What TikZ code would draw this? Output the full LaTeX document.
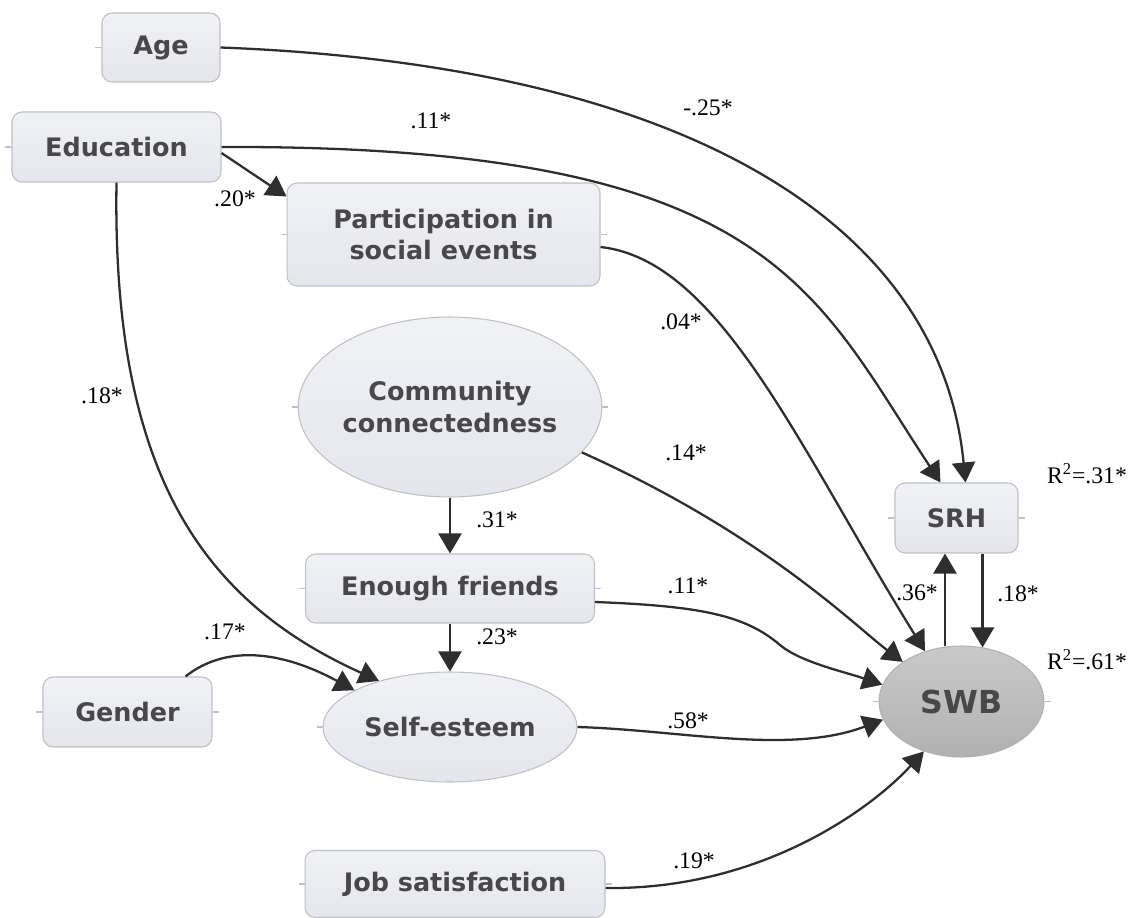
\documentclass[tikz,border=0pt]{standalone}
\usepackage{fontspec}
\setmainfont{Liberation Serif}
\newfontfamily\boxfont{DejaVu Sans}
\usetikzlibrary{shapes.geometric,arrows.meta,calc}
\definecolor{boxtop}{HTML}{F1F2F6}
\definecolor{boxbot}{HTML}{E5E6EC}
\definecolor{boxline}{HTML}{BFC0C6}
\definecolor{boxtext}{HTML}{48484A}
\definecolor{swbtop}{HTML}{C9C9C9}
\definecolor{swbbot}{HTML}{B1B1B1}
\definecolor{pathcol}{HTML}{2E2E2E}
\tikzset{
  var/.style={draw=boxline, top color=boxtop, bottom color=boxbot, text=boxtext,
    font=\boxfont\bfseries\fontsize{14.5}{18}\selectfont, align=center,
    inner sep=0pt, line width=0.6pt,
    append after command={(\tikzlastnode.west) edge[boxline, line width=0.6pt] ++(-6,0)
      (\tikzlastnode.east) edge[boxline, line width=0.6pt] ++(6,0)}},
  obs/.style={var, rectangle, rounded corners=0.2cm},
  lat/.style={var, ellipse},
  effect/.style={draw=pathcol, line width=1.3pt, -{Triangle[length=0.4cm, width=0.46cm]}},
  coef/.style={font=\fontsize{13.5}{16}\selectfont, text=black, inner sep=0pt},
}
\begin{document}
\begin{tikzpicture}[x=0.02cm, y=-0.02cm]
  \useasboundingbox (0,0) rectangle (1135,918);

  % variables
  \node[obs, minimum width=2.36cm, minimum height=1.38cm] (age) at (161,47.5) {Age};
  \node[obs, minimum width=4.18cm, minimum height=1.40cm] (edu) at (116.5,147) {Education};
  \node[obs, minimum width=6.26cm, minimum height=2.06cm] (part) at (443.5,234.5) {Participation in\\social events};
  \node[lat, minimum width=6cm, minimum height=3.6cm] (comm) at (450,407) {Community\\connectedness};
  \node[obs, minimum width=5.78cm, minimum height=1.38cm] (friends) at (450,588.5) {Enough friends};
  \node[obs, minimum width=3.38cm, minimum height=1.40cm] (gender) at (127.5,712) {Gender};
  \node[lat, minimum width=5.08cm, minimum height=2.2cm] (self) at (450,727) {Self-esteem};
  \node[obs, minimum width=6cm, minimum height=1.34cm] (job) at (455,884) {Job satisfaction};
  \node[obs, minimum width=2.46cm, minimum height=1.40cm] (srh) at (956.5,518) {SRH};
  \node[lat, top color=swbtop, bottom color=swbbot, draw=swbbot,
        font=\boxfont\bfseries\fontsize{18}{20}\selectfont,
        minimum width=3.3cm, minimum height=2.22cm] (swb) at (961.5,701.5) {SWB};

  % paths
  \draw[effect] (age.east) .. controls (680,65) and (940,220) .. ($(srh.north)+(9,0)$);
  \draw[effect] (edu.east) .. controls (771,145) and (813,290) .. ($(srh.north)+(-16,0)$);
  \draw[effect] ($(edu.east)+(0,6)$) -- ($(part.north west)+(0,14)$);
  \draw[effect] (edu.south) .. controls (112,470) and (200,600) .. (self.147);
  \draw[effect] ($(gender.north east)+(-27,0)$) .. controls (225,645) and (280,650) .. (self.159);
  \draw[effect] ($(part.east)+(0,12.5)$) .. controls (720,260) and (800,450) .. (swb.126);
  \draw[effect] (comm.-19) .. controls (764,534) and (855,626) .. (swb.146);
  \draw[effect] (comm.south) -- (friends.north);
  \draw[effect] (friends.south) -- (self.north);
  \draw[effect] ($(friends.east)+(0,13.5)$) .. controls (700,606) and (745,615) .. (780,645)
                .. controls (800,662) and (845,672) .. (swb.168);
  \draw[effect] (self.east) .. controls (680,730) and (790,755) .. (swb.193);
  \draw[effect] ($(job.east)+(0,4)$) .. controls (760,890) and (870,810) .. (swb.233);
  \draw[effect] ($(swb.north)+(-16.5,1)$) -- ($(srh.south)+(-11.5,0)$);
  \draw[effect] ($(srh.south)+(26,0)$) -- ($(swb.north)+(21,2)$);

  % coefficients
  \node[coef] (c20) at (235,199) {.20*};
  \node[coef] (c11e) at (431,121) {.11*};
  \node[coef] (c25) at (708,108) {-.25*};
  \node[coef] (c04) at (681,322) {.04*};
  \node[coef] (c18e) at (102,396) {.18*};
  \node[coef] (c14) at (686,453) {.14*};
  \node[coef] (c31) at (497,520) {.31*};
  \node[coef] (c11f) at (688,586) {.11*};
  \node[coef] (c23) at (497,637) {.23*};
  \node[coef] (c17) at (225,632) {.17*};
  \node[coef] (c58) at (688,721) {.58*};
  \node[coef] (c19) at (694,861) {.19*};
  \node[coef] (c36) at (917,593) {.36*};
  \node[coef] (c18s) at (1018,594) {.18*};
  \node[coef] (r31) at (1087,474) {R\textsuperscript{2}=.31*};
  \node[coef] (r61) at (1087,660) {R\textsuperscript{2}=.61*};
\end{tikzpicture}
\end{document}
